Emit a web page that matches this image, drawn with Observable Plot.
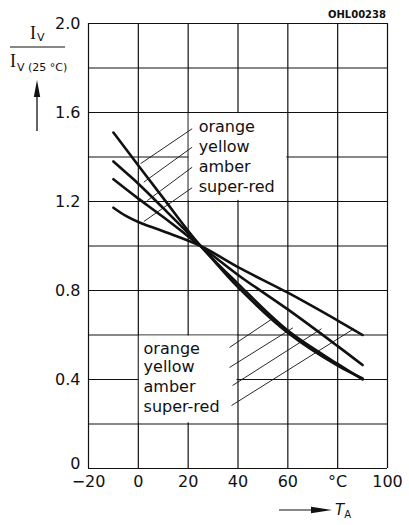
<!DOCTYPE html>
<html>
<head>
<meta charset="utf-8">
<script src="https://cdn.jsdelivr.net/npm/d3@7"></script>
<script src="https://cdn.jsdelivr.net/npm/@observablehq/plot@0.6"></script>
<style>
  html, body { margin: 0; padding: 0; background: white; }
</style>
</head>
<body>
<div id="chart"></div>
<script>
// ---- data ----
const temps    = [-10, -5, 0, 10, 25, 40, 60, 80, 90];
const orange   = [1.51, 1.436, 1.362, 1.215, 1.0, 0.83, 0.62, 0.47, 0.40];
const yellow   = [1.38, 1.33, 1.28, 1.17, 1.0, 0.815, 0.61, 0.462, 0.405];
const amber    = [1.30, 1.256, 1.213, 1.13, 1.0, 0.87, 0.715, 0.55, 0.465];
const superRed = [1.172, 1.135, 1.108, 1.066, 1.0, 0.905, 0.79, 0.665, 0.60];

const seriesNames = ["orange", "yellow", "amber", "super-red"];
const seriesValues = [orange, yellow, amber, superRed];

const xTicks = [-20, 0, 20, 40, 60, 80, 100];
const xTickLabels = ["−20", "0", "20", "40", "60", "°C", "100"];
const yTicks = [0.4, 0.8, 1.2, 1.6, 2.0];
const yTickLabels = ["0.4", "0.8", "1.2", "1.6", "2.0"];
const yZeroTick = [0];
const xGrid = [-20, 0, 20, 40, 60, 80, 100];
const yGrid = [0, 0.2, 0.4, 0.6, 0.8, 1.0, 1.2, 1.4, 1.6, 1.8, 2.0];

// label anchors (data units) and leader lines
const upperLabelX = 24.2;
const upperLabelY = [1.534, 1.444, 1.357, 1.267];
const upperLeaders = [
  {x1: 21.6, y1: 1.527, x2: 0.9, y2: 1.37},
  {x1: 21.6, y1: 1.444, x2: 2.2, y2: 1.287},
  {x1: 21.6, y1: 1.354, x2: 3.6, y2: 1.204},
  {x1: 21.6, y1: 1.262, x2: 2.2, y2: 1.11}
];
const lowerLabelX = 2.1;
const lowerLabelY = [0.538, 0.455, 0.365, 0.276];
const lowerLeaders = [
  {x1: 36.6, y1: 0.544, x2: 53.9, y2: 0.674},
  {x1: 36.6, y1: 0.454, x2: 62.0, y2: 0.632},
  {x1: 37.8, y1: 0.373, x2: 73.5, y2: 0.628},
  {x1: 37.4, y1: 0.283, x2: 86.5, y2: 0.628}
];
const blankBoxes = [
  {x1: 20.4, x2: 59.6, y1: 1.205, y2: 1.595},
  {x1: 0.4, x2: 39.6, y1: 0.205, y2: 0.595}
];

const rows = [];
seriesNames.forEach((name, i) => {
  temps.forEach((t, j) => rows.push({series: name, t, v: seriesValues[i][j]}));
});
const upperLabels = seriesNames.map((n, i) => ({name: n, x: upperLabelX, y: upperLabelY[i]}));
const lowerLabels = seriesNames.map((n, i) => ({name: n, x: lowerLabelX, y: lowerLabelY[i]}));

const ink = "#111";
const font = "DejaVu Sans";

const plot = Plot.plot({
  width: 409,
  height: 525,
  marginLeft: 88,
  marginRight: 22,
  marginTop: 23,
  marginBottom: 57,
  style: {fontFamily: font, fontSize: "16px", background: "white", color: ink},
  x: {domain: [-20, 100], label: null},
  y: {domain: [0, 2.0], label: null},
  marks: [
    Plot.ruleX(xGrid, {stroke: ink, strokeWidth: 1.2}),
    Plot.ruleY(yGrid, {stroke: ink, strokeWidth: 1.2}),
    Plot.rect(blankBoxes, {x1: "x1", x2: "x2", y1: "y1", y2: "y2", fill: "white"}),
    Plot.axisX({ticks: xTicks, tickSize: 0, tickPadding: 7, fontSize: 16,
      tickFormat: (d) => xTickLabels[xTicks.indexOf(d)], label: null}),
    Plot.axisY({ticks: yTicks, tickSize: 0, tickPadding: 8, fontSize: 16,
      tickFormat: (d) => yTickLabels[yTicks.findIndex(t => Math.abs(t - d) < 1e-9)], label: null}),
    Plot.axisY({ticks: yZeroTick, tickSize: 0, tickPadding: 8, fontSize: 16, dy: -5,
      tickFormat: () => "0", label: null}),
    Plot.link(upperLeaders, {x1: "x1", y1: "y1", x2: "x2", y2: "y2", stroke: ink, strokeWidth: 0.9}),
    Plot.link(lowerLeaders, {x1: "x1", y1: "y1", x2: "x2", y2: "y2", stroke: ink, strokeWidth: 0.9}),
    Plot.line(rows, {x: "t", y: "v", z: "series", curve: "catmull-rom", stroke: ink, strokeWidth: 2.6, strokeLinecap: "round"}),
    Plot.text(upperLabels, {x: "x", y: "y", text: "name", textAnchor: "start", fontSize: 16, fill: ink}),
    Plot.text(lowerLabels, {x: "x", y: "y", text: "name", textAnchor: "start", fontSize: 16, fill: ink})
  ]
});

document.getElementById("chart").appendChild(plot);

// ---- outside annotations ----
const svg = d3.select(plot);
const g = svg.append("g").attr("fill", ink).attr("text-anchor", "start");

g.append("text").attr("x", 386).attr("y", 18).attr("text-anchor", "end")
  .attr("font-family", font).attr("font-weight", "bold").attr("font-size", 10).text("OHL00238");

// y label: I_V / I_V(25°C)
const num = g.append("text").attr("x", 30).attr("y", 39).attr("font-family", "Liberation Serif").attr("font-size", 18);
num.append("tspan").text("I");
num.append("tspan").attr("font-family", font).attr("font-size", 11).attr("dy", 2).attr("dx", 1).text("V");
g.append("line").attr("x1", 10).attr("x2", 65).attr("y1", 47).attr("y2", 47).attr("stroke", ink).attr("stroke-width", 1.2);
const den = g.append("text").attr("x", 10).attr("y", 67).attr("font-family", "Liberation Serif").attr("font-size", 18);
den.append("tspan").text("I");
den.append("tspan").attr("font-family", font).attr("font-size", 11).attr("dy", 4).attr("dx", 1).text("V (25 °C)");

g.append("line").attr("x1", 37).attr("x2", 37).attr("y1", 131).attr("y2", 92).attr("stroke", ink).attr("stroke-width", 1.3);
g.append("polygon").attr("points", "37,80 33.8,97 40.2,97");

// x label arrow + T_A
g.append("line").attr("x1", 279).attr("x2", 314).attr("y1", 510).attr("y2", 510).attr("stroke", ink).attr("stroke-width", 1);
g.append("polygon").attr("points", "332,510 311,506.8 311,513.2");
const ta = g.append("text").attr("x", 335).attr("y", 515).attr("font-family", font).attr("font-style", "italic").attr("font-size", 15);
ta.append("tspan").text("T");
ta.append("tspan").attr("font-size", 10).attr("font-style", "normal").attr("dy", 3).text("A");
</script>
</body>
</html>
